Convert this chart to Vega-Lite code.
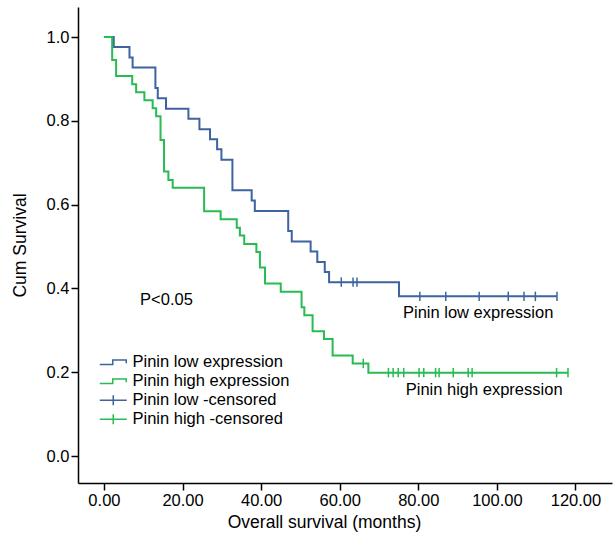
{
  "$schema": "https://vega.github.io/schema/vega-lite/v6.json",
  "width": 534,
  "height": 476,
  "autosize": {"type": "none"},
  "padding": {"left": 78, "top": 7, "right": 1, "bottom": 53},
  "background": "white",
  "config": {
    "view": {"stroke": null},
    "font": "Liberation Sans",
    "axis": {
      "domainColor": "black", "domainWidth": 1.5,
      "tickColor": "black", "tickWidth": 1.5, "tickSize": 7,
      "labelColor": "black", "labelFontSize": 16.5, "labelFont": "Liberation Sans",
      "titleColor": "black", "titleFontSize": 17.5, "titleFontWeight": "normal", "titleFont": "Liberation Sans",
      "grid": false
    }
  },
  "datasets": {
    "curves": [
      {"series": "Pinin low expression", "t": 0, "s": 1.0},
      {"series": "Pinin low expression", "t": 2.5, "s": 0.976},
      {"series": "Pinin low expression", "t": 6.5, "s": 0.951},
      {"series": "Pinin low expression", "t": 7.3, "s": 0.927},
      {"series": "Pinin low expression", "t": 13.1, "s": 0.878},
      {"series": "Pinin low expression", "t": 13.7, "s": 0.854},
      {"series": "Pinin low expression", "t": 15.8, "s": 0.829},
      {"series": "Pinin low expression", "t": 21.5, "s": 0.805},
      {"series": "Pinin low expression", "t": 24.3, "s": 0.780},
      {"series": "Pinin low expression", "t": 27.0, "s": 0.756},
      {"series": "Pinin low expression", "t": 28.8, "s": 0.732},
      {"series": "Pinin low expression", "t": 29.9, "s": 0.707},
      {"series": "Pinin low expression", "t": 32.7, "s": 0.634},
      {"series": "Pinin low expression", "t": 37.6, "s": 0.610},
      {"series": "Pinin low expression", "t": 38.4, "s": 0.585},
      {"series": "Pinin low expression", "t": 46.9, "s": 0.537},
      {"series": "Pinin low expression", "t": 47.8, "s": 0.512},
      {"series": "Pinin low expression", "t": 52.6, "s": 0.488},
      {"series": "Pinin low expression", "t": 54.3, "s": 0.463},
      {"series": "Pinin low expression", "t": 56.2, "s": 0.439},
      {"series": "Pinin low expression", "t": 57.3, "s": 0.415},
      {"series": "Pinin low expression", "t": 75.1, "s": 0.381},
      {"series": "Pinin low expression", "t": 115.3, "s": 0.381},
      {"series": "Pinin high expression", "t": 0, "s": 1.0},
      {"series": "Pinin high expression", "t": 2.1, "s": 0.945},
      {"series": "Pinin high expression", "t": 3.1, "s": 0.907},
      {"series": "Pinin high expression", "t": 7.2, "s": 0.887},
      {"series": "Pinin high expression", "t": 8.2, "s": 0.868},
      {"series": "Pinin high expression", "t": 10.3, "s": 0.849},
      {"series": "Pinin high expression", "t": 12.4, "s": 0.830},
      {"series": "Pinin high expression", "t": 13.3, "s": 0.811},
      {"series": "Pinin high expression", "t": 14.4, "s": 0.754},
      {"series": "Pinin high expression", "t": 15.3, "s": 0.679},
      {"series": "Pinin high expression", "t": 16.4, "s": 0.659},
      {"series": "Pinin high expression", "t": 17.5, "s": 0.640},
      {"series": "Pinin high expression", "t": 25.5, "s": 0.584},
      {"series": "Pinin high expression", "t": 29.7, "s": 0.565},
      {"series": "Pinin high expression", "t": 33.8, "s": 0.545},
      {"series": "Pinin high expression", "t": 34.6, "s": 0.526},
      {"series": "Pinin high expression", "t": 35.7, "s": 0.506},
      {"series": "Pinin high expression", "t": 38.8, "s": 0.487},
      {"series": "Pinin high expression", "t": 39.7, "s": 0.450},
      {"series": "Pinin high expression", "t": 41.0, "s": 0.412},
      {"series": "Pinin high expression", "t": 45.0, "s": 0.392},
      {"series": "Pinin high expression", "t": 50.3, "s": 0.355},
      {"series": "Pinin high expression", "t": 51.0, "s": 0.336},
      {"series": "Pinin high expression", "t": 53.1, "s": 0.298},
      {"series": "Pinin high expression", "t": 56.0, "s": 0.279},
      {"series": "Pinin high expression", "t": 58.2, "s": 0.240},
      {"series": "Pinin high expression", "t": 63.3, "s": 0.221},
      {"series": "Pinin high expression", "t": 67.3, "s": 0.199},
      {"series": "Pinin high expression", "t": 118.1, "s": 0.199}
    ],
    "censored": [
      {"series": "Pinin  low -censored", "t": 60.4, "s": 0.415},
      {"series": "Pinin  low -censored", "t": 63.4, "s": 0.415},
      {"series": "Pinin  low -censored", "t": 64.4, "s": 0.415},
      {"series": "Pinin  low -censored", "t": 80.4, "s": 0.381},
      {"series": "Pinin  low -censored", "t": 87.0, "s": 0.381},
      {"series": "Pinin  low -censored", "t": 95.5, "s": 0.381},
      {"series": "Pinin  low -censored", "t": 102.9, "s": 0.381},
      {"series": "Pinin  low -censored", "t": 106.9, "s": 0.381},
      {"series": "Pinin  low -censored", "t": 109.8, "s": 0.381},
      {"series": "Pinin  low -censored", "t": 115.3, "s": 0.381},
      {"series": "Pinin  high -censored", "t": 66.0, "s": 0.221},
      {"series": "Pinin  high -censored", "t": 72.4, "s": 0.199},
      {"series": "Pinin  high -censored", "t": 73.6, "s": 0.199},
      {"series": "Pinin  high -censored", "t": 74.9, "s": 0.199},
      {"series": "Pinin  high -censored", "t": 76.3, "s": 0.199},
      {"series": "Pinin  high -censored", "t": 80.2, "s": 0.199},
      {"series": "Pinin  high -censored", "t": 81.4, "s": 0.199},
      {"series": "Pinin  high -censored", "t": 84.4, "s": 0.199},
      {"series": "Pinin  high -censored", "t": 85.3, "s": 0.199},
      {"series": "Pinin  high -censored", "t": 88.9, "s": 0.199},
      {"series": "Pinin  high -censored", "t": 92.7, "s": 0.199},
      {"series": "Pinin  high -censored", "t": 93.7, "s": 0.199},
      {"series": "Pinin  high -censored", "t": 115.2, "s": 0.199},
      {"series": "Pinin  high -censored", "t": 118.1, "s": 0.199}
    ],
    "labels": [
      {"label": "P<0.05", "t": 9.2, "s": 0.372},
      {"label": "Pinin low expression", "t": 76.1, "s": 0.341},
      {"label": "Pinin high expression", "t": 76.8, "s": 0.158}
    ]
  },
  "layer": [
    {
      "data": {"name": "curves"},
      "mark": {"type": "line", "interpolate": "step-after", "strokeWidth": 2},
      "encoding": {
        "x": {"field": "t", "type": "quantitative", "scale": {"domain": [-6.6, 129.3], "nice": false, "zero": false},
              "axis": {"values": [0, 20, 40, 60, 80, 100, 120], "format": ".2f", "title": "Overall survival  (months)", "labelPadding": 2, "titlePadding": 5, "titleX": 246, "titleAnchor": "middle", "titleAlign": "center"}},
        "y": {"field": "s", "type": "quantitative", "scale": {"domain": [-0.0644, 1.0716], "nice": false, "zero": false},
              "axis": {"values": [0, 0.2, 0.4, 0.6, 0.8, 1.0], "format": ".1f", "title": "Cum Survival", "labelPadding": 2, "titlePadding": 17}},
        "color": {"field": "series", "type": "nominal",
          "scale": {"domain": ["Pinin low expression", "Pinin high expression", "Pinin  low -censored", "Pinin  high -censored"],
                    "range": ["#3E64A0", "#27BB52", "#3E64A0", "#27BB52"]},
          "legend": {"orient": "none", "legendX": 27, "legendY": 347, "title": null, "padding": 0,
                     "labelFontSize": 16.5, "labelColor": "black", "labelFont": "Liberation Sans",
                     "symbolSize": 100, "labelOffset": 11, "rowPadding": 2,
                     "encode": {"symbols": {"update": {
                        "shape": {"signal": "indexof(datum.label, 'censored') >= 0 ? 'M-2.7,0H2.7M0,-1V1' : 'M-2.7,0.45H-0.1V-0.45H2.6V0.2'"},
                        "fill": {"value": "transparent"},
                        "strokeWidth": {"value": 1.5}}}}}
        },
        "detail": {"field": "series"}
      }
    },
    {
      "data": {"name": "censored"},
      "mark": {"type": "point", "shape": "M0,-1V1", "size": 90, "filled": false, "strokeWidth": 1.5, "opacity": 1},
      "encoding": {
        "x": {"field": "t", "type": "quantitative"},
        "y": {"field": "s", "type": "quantitative"},
        "color": {"field": "series", "type": "nominal"}
      }
    },
    {
      "data": {"name": "labels"},
      "mark": {"type": "text", "fontSize": 16.5, "font": "Liberation Sans", "color": "black", "baseline": "middle", "align": "left"},
      "encoding": {
        "x": {"field": "t", "type": "quantitative"},
        "y": {"field": "s", "type": "quantitative"},
        "text": {"field": "label"}
      }
    },
    {
      "mark": {"type": "rule", "color": "black", "strokeWidth": 1.5},
      "encoding": {
        "x": {"datum": 129.3, "type": "quantitative"}
      }
    }
  ]
}
